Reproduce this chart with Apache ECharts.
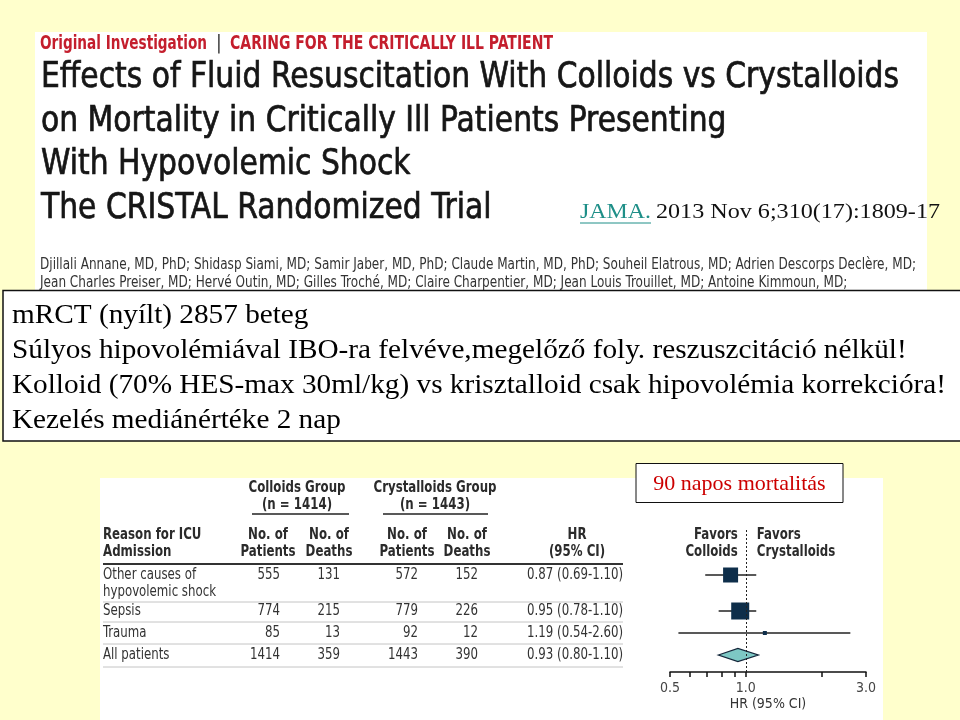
<!DOCTYPE html>
<html><head><meta charset="utf-8">
<script src="https://cdn.jsdelivr.net/npm/echarts@6/dist/echarts.min.js"></script>
<style>html,body{margin:0;padding:0;background:#FFFFCC}#c{width:960px;height:720px}</style>
</head><body><div id="c"></div>
<script>
// ---- data ----
const reasons = ['Other causes of\nhypovolemic shock', 'Sepsis', 'Trauma', 'All patients'];
const colloidsPatients = [555, 774, 85, 1414];
const colloidsDeaths = [131, 215, 13, 359];
const crystalloidsPatients = [572, 779, 92, 1443];
const crystalloidsDeaths = [152, 226, 12, 390];
const hr = [0.87, 0.95, 1.19, 0.93];
const ciLow = [0.69, 0.78, 0.54, 0.80];
const ciHigh = [1.10, 1.10, 2.60, 1.10];
const tickValues = [0.5, 0.6, 0.7, 0.8, 0.9, 1.0, 2.0, 3.0];
const tickLabels = [0.5, 1.0, 3.0];

const titleLines = [
  'Effects of Fluid Resuscitation With Colloids vs Crystalloids',
  'on Mortality in Critically Ill Patients Presenting',
  'With Hypovolemic Shock',
  'The CRISTAL Randomized Trial'
];
const authorLines = [
  'Djillali Annane, MD, PhD; Shidasp Siami, MD; Samir Jaber, MD, PhD; Claude Martin, MD, PhD; Souheil Elatrous, MD; Adrien Descorps Declère, MD;',
  'Jean Charles Preiser, MD; Hervé Outin, MD; Gilles Troché, MD; Claire Charpentier, MD; Jean Louis Trouillet, MD; Antoine Kimmoun, MD;'
];
const boxLines = [
  'mRCT (nyílt) 2857 beteg',
  'Súlyos hipovolémiával IBO-ra felvéve,megelőző foly. reszuszcitáció nélkül!',
  'Kolloid (70% HES-max 30ml/kg) vs krisztalloid csak hipovolémia korrekcióra!',
  'Kezelés mediánértéke 2 nap'
];

// ---- layout / style ----
const NARROW = "'Liberation Sans Narrow', 'DejaVu Sans Condensed', 'Arial Narrow', sans-serif";
const SERIF = "'Liberation Serif', 'Times New Roman', serif";
const gridTop = 530, gridBottomY = 672;
const rowOffset = [45, 81, 103, 125];       // row centres inside the plot area (layout)
const markStyle = [
  {shape: 'box', w: 15, h: 15},
  {shape: 'box', w: 18, h: 17},
  {shape: 'box', w: 4, h: 4},
  {shape: 'diamond', h: 13}
];

const mctx = document.createElement('canvas').getContext('2d');
function measure(t, size, fam, weight) { mctx.font = (weight || 'normal') + ' ' + size + 'px ' + fam; return mctx.measureText(t).width; }
let gid = 0;
function txt(text, x, y, o) {
  o = o || {};
  const size = o.size || 14, fam = o.family || NARROW, weight = o.weight || 'normal';
  let sx = o.scale || 1;
  if (o.width) sx = o.width / measure(text, size, fam, weight);
  const style = {text: text, fontSize: size, fontFamily: fam, fontWeight: weight, fill: o.color || '#222',
      align: o.align || 'left', verticalAlign: 'middle'};
  if (o.stroke) { style.stroke = o.color || '#222'; style.lineWidth = o.stroke; }
  return {type: 'text', id: 'g' + (gid++), x: x, y: y, scaleX: sx, z: 10, silent: true, style: style};
}
function rect(x, y, w, h, fill, stroke, lw, z) {
  return {type: 'rect', id: 'g' + (gid++), z: z == null ? -5 : z, silent: true, shape: {x: x, y: y, width: w, height: h},
    style: {fill: fill, stroke: stroke || null, lineWidth: lw || 0}};
}
function line(x1, y1, x2, y2, color, lw) {
  return {type: 'line', id: 'g' + (gid++), z: 10, silent: true, shape: {x1: x1, y1: y1, x2: x2, y2: y2},
    style: {stroke: color, lineWidth: lw}};
}

const g = [];
// panels
g.push(rect(35, 32, 892, 258, '#ffffff'));
g.push(rect(3, 290.5, 975, 150.5, '#ffffff', '#111', 1.5, -4));
g.push(rect(100, 478, 783, 242, '#ffffff'));

// header of the article
const RED = '#C41E2D';
g.push(txt('Original Investigation', 40, 44, {size: 19, weight: 'bold', color: RED, width: 167}));
g.push(txt('|', 216, 44, {size: 19, color: '#333'}));
g.push(txt('CARING FOR THE CRITICALLY ILL PATIENT', 230, 44, {size: 19, weight: 'bold', color: RED, width: 323}));
const tScale = 858 / measure(titleLines[0], 36, NARROW, 'normal');
const titleY = [78, 122, 165, 209];
titleLines.forEach((t, i) => g.push(txt(t, 41, titleY[i], {size: 36, color: '#161616', scale: tScale, stroke: 0.7})));
g.push(txt('JAMA.', 580, 212, {size: 21, family: SERIF, color: '#1E8F88', width: 71}));
g.push(line(580, 223, 651, 223, '#1E8F88', 1));
g.push(txt('2013 Nov 6;310(17):1809-17', 656, 212, {size: 21, family: SERIF, color: '#111', width: 284}));
const aScale = 876 / measure(authorLines[0], 15, NARROW, 'normal');
g.push(txt(authorLines[0], 40, 265, {size: 15, color: '#333', scale: aScale}));
g.push(txt(authorLines[1], 40, 283, {size: 15, color: '#333', scale: aScale}));

// text box
const bScale = 934 / measure(boxLines[2], 28, SERIF, 'normal');
const boxY = [316, 351, 386, 421];
boxLines.forEach((t, i) => g.push(txt(t, 12, boxY[i], {size: 28, family: SERIF, color: '#000', scale: bScale})));

// table
const TS = 113 / measure('hypovolemic shock', 15, NARROW, 'normal');
const HC = '#2b2b2b', DC = '#333';
const th = (t, x, y, al) => txt(t, x, y, {size: 15, weight: 'bold', color: HC, scale: TS, align: al || 'center'});
const td = (t, x, y, al) => txt(String(t), x, y, {size: 15, color: DC, scale: TS, align: al || 'right'});
g.push(th('Colloids Group', 297, 488));
g.push(th('(n = ' + colloidsPatients[colloidsPatients.length - 1] + ')', 297, 505));
g.push(line(252, 514, 349, 514, '#222', 1.5));
g.push(th('Crystalloids Group', 435, 488));
g.push(th('(n = ' + crystalloidsPatients[crystalloidsPatients.length - 1] + ')', 435, 505));
g.push(line(383, 514, 488, 514, '#222', 1.5));
g.push(th('Reason for ICU', 103, 535, 'left'));
g.push(th('Admission', 103, 552, 'left'));
[[268, 'Patients'], [329, 'Deaths'], [407, 'Patients'], [467, 'Deaths']].forEach(c => {
  g.push(th('No. of', c[0], 535));
  g.push(th(c[1], c[0], 552));
});
g.push(th('HR', 577, 535));
g.push(th('(95% CI)', 577, 552));
g.push(line(103, 564, 623, 564, '#333', 2));
const sepY = [602, 622, 644, 667];
reasons.forEach((r, i) => {
  const y = gridTop + rowOffset[i];
  r.split('\n').forEach((part, k) => g.push(txt(part, 103, y + k * 17, {size: 15, color: DC, scale: TS})));
  g.push(td(colloidsPatients[i], 280, y));
  g.push(td(colloidsDeaths[i], 340, y));
  g.push(td(crystalloidsPatients[i], 418, y));
  g.push(td(crystalloidsDeaths[i], 478, y));
  g.push(td(hr[i].toFixed(2) + ' (' + ciLow[i].toFixed(2) + '-' + ciHigh[i].toFixed(2) + ')', 623, y));
  g.push(line(103, sepY[i], 623, sepY[i], '#c4c4c4', 1));
});

// title box of the plot
g.push(rect(636, 463.5, 207, 39, '#ffffff', '#111', 1, 8));
g.push(txt('90 napos mortalitás', 739.5, 484, {size: 22, family: SERIF, color: '#CC0000', align: 'center'}));

const chart = echarts.init(document.getElementById('c'), null, {renderer: 'canvas'});
chart.setOption({
  backgroundColor: '#FFFFCC',
  animation: false,
  graphic: {elements: g},
  grid: {left: 670, right: 94, top: gridTop, bottom: 720 - gridBottomY, containLabel: false},
  xAxis: {
    type: 'log', logBase: 10, min: 0.5, max: 3,
    axisLine: {show: true, onZero: false, lineStyle: {color: '#111', width: 1.5}},
    axisTick: {show: true, customValues: tickValues, length: 5, inside: false, lineStyle: {color: '#111', width: 1.5}},
    axisLabel: {show: true, customValues: tickLabels, formatter: v => Number(v).toFixed(1), color: '#444', fontSize: 14, fontFamily: NARROW, margin: 9},
    splitLine: {show: false}, minorTick: {show: false},
    name: 'HR (95% CI)', nameLocation: 'middle', nameGap: 25,
    nameTextStyle: {color: '#333', fontSize: 14, fontFamily: NARROW}
  },
  yAxis: {type: 'value', min: 0, max: gridBottomY - gridTop, inverse: true, show: false},
  series: [{
    type: 'custom',
    coordinateSystem: 'cartesian2d',
    clip: false,
    data: reasons.map((r, i) => [hr[i], ciLow[i], ciHigh[i], rowOffset[i], i]),
    encode: {x: [0, 1, 2], y: 3},
    renderItem: function (params, api) {
      const i = api.value(4), yv = api.value(3);
      const c = api.coord([api.value(0), yv]);
      const l = api.coord([api.value(1), yv]);
      const h = api.coord([api.value(2), yv]);
      const st = markStyle[i];
      if (st.shape === 'diamond') {
        return {type: 'polygon', z2: 5, shape: {points: [[l[0] - 3, c[1]], [c[0], c[1] - st.h / 2], [h[0] + 2, c[1]], [c[0], c[1] + st.h / 2]]},
          style: {fill: '#7DC8C4', stroke: '#14263a', lineWidth: 1.3}};
      }
      return {type: 'group', children: [
        {type: 'line', shape: {x1: l[0], y1: c[1], x2: h[0], y2: c[1]}, style: {stroke: '#222', lineWidth: 1.5}},
        {type: 'rect', shape: {x: c[0] - st.w / 2, y: c[1] - st.h / 2, width: st.w, height: st.h}, style: {fill: '#0E2E4A'}}
      ]};
    },
    markLine: {
      silent: true, symbol: 'none', label: {show: false},
      lineStyle: {color: '#222', width: 1, type: [2, 2]},
      data: [{xAxis: 1}]
    }
  }]
});

// "Favors" labels positioned relative to HR = 1 on the axis
const xOne = chart.convertToPixel({xAxisIndex: 0}, 1);
const fav = [];
fav.push(txt('Favors', xOne - 8, 535, {size: 15, weight: 'bold', color: HC, align: 'right', scale: TS}));
fav.push(txt('Colloids', xOne - 8, 552, {size: 15, weight: 'bold', color: HC, align: 'right', scale: TS}));
fav.push(txt('Favors', xOne + 11, 535, {size: 15, weight: 'bold', color: HC, align: 'left', scale: TS}));
fav.push(txt('Crystalloids', xOne + 11, 552, {size: 15, weight: 'bold', color: HC, align: 'left', scale: TS}));
chart.setOption({graphic: {elements: fav}});
</script>
</body></html>
